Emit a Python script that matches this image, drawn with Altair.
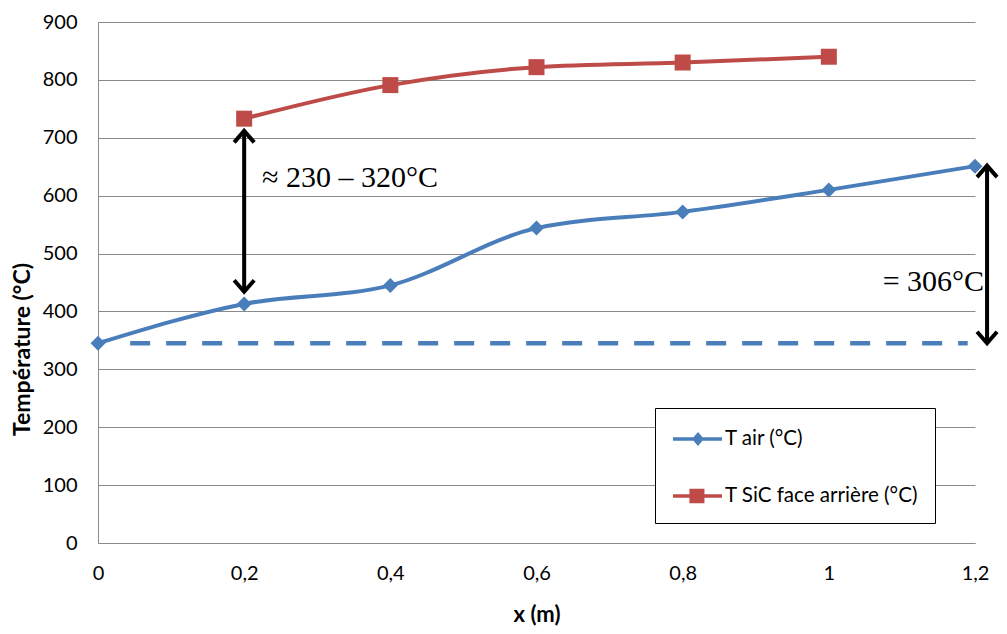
import altair as alt
import pandas as pd

# ---- data ----
x_air = [0, 0.2, 0.4, 0.6, 0.8, 1.0, 1.2]
t_air = [345, 413, 445, 544, 572, 610, 651]
x_sic = [0.2, 0.4, 0.6, 0.8, 1.0]
t_sic = [733, 791, 822, 830, 840]
x_inlet = [0.044, 1.19]
t_inlet = [345, 345]
series = ["T air (°C)", "T SiC face arrière (°C)"]
colors = ["#4a7ebb", "#be4b48"]
x_ticks = [0, 0.2, 0.4, 0.6, 0.8, 1.0, 1.2]
y_ticks = [0, 100, 200, 300, 400, 500, 600, 700, 800, 900]

arrow_x = [0.2, 1.2165]
arrow_low = [434, 345]
arrow_high = [712, 652]
note_left = "≈ 230 – 320°C"
note_left_pos = [0.2244, 630]
note_right = "= 306°C"
note_right_pos = [1.2125, 451]

# legend symbols: line segment + marker (custom paths)
legend_shapes = [
    "M-0.867,-0.117H2.4V0.117H-0.867Z M0.8,-0.47L1.2,0L0.8,0.47L0.4,0Z",
    "M-0.867,-0.117H2.4V0.117H-0.867Z M0.23,-0.48H1.23V0.48H0.23Z",
]

FONT = "Lato"
GRID = "#8a8a8a"

df_air = pd.DataFrame({"x": x_air, "y": t_air})
df_sic = pd.DataFrame({"x": x_sic, "y": t_sic})
df_inlet = pd.DataFrame({"x": x_inlet, "y": t_inlet})
df_arrows = pd.DataFrame({"x": arrow_x, "y": arrow_low, "y2": arrow_high})
df_up = pd.DataFrame({"x": arrow_x, "y": arrow_high})
df_down = pd.DataFrame({"x": arrow_x, "y": arrow_low})
df_tl = pd.DataFrame({"x": [note_left_pos[0]], "y": [note_left_pos[1]], "t": [note_left]})
df_tr = pd.DataFrame({"x": [note_right_pos[0]], "y": [note_right_pos[1]], "t": [note_right]})
df_leg = pd.DataFrame({"series": series})

x_enc = alt.X(
    "x:Q",
    scale=alt.Scale(domain=[0, 1.2], nice=False, zero=False),
    axis=alt.Axis(
        values=x_ticks,
        labelExpr="replace(format(datum.value, ''), '.', ',')",
        grid=False,
        ticks=False,
        domainColor=GRID,
        domainWidth=1,
        labelFont=FONT,
        labelFontSize=20,
        labelColor="black",
        labelPadding=30,
        labelBaseline="middle",
        labelFlush=False,
        title="x (m)",
        titleFont=FONT,
        titleFontSize=22,
        titleFontWeight="bold",
        titleColor="black",
        titleY=71,
        titleBaseline="middle",
    ),
)
y_enc = alt.Y(
    "y:Q",
    scale=alt.Scale(domain=[0, 900], nice=False),
    axis=alt.Axis(
        values=y_ticks,
        grid=True,
        gridColor=GRID,
        gridWidth=1,
        ticks=False,
        domainColor=GRID,
        domainWidth=1,
        labelFont=FONT,
        labelFontSize=20,
        labelColor="black",
        labelPadding=21,
        title="Température (°C)",
        titleFont=FONT,
        titleFontSize=23,
        titleFontWeight="bold",
        titleColor="black",
        titleX=-76,
        titleY=327,
        titleAngle=270,
        titleAlign="center",
        titleBaseline="middle",
    ),
)
xs = alt.X("x:Q")
ys = alt.Y("y:Q")

inlet = alt.Chart(df_inlet).mark_line(
    color=colors[0], strokeWidth=4.5, strokeDash=[20, 16]
).encode(x=x_enc, y=y_enc)

air_line = alt.Chart(df_air).mark_line(
    color=colors[0], strokeWidth=4, interpolate="monotone"
).encode(x=xs, y=ys)
air_pts = alt.Chart(df_air).mark_point(
    shape="diamond", filled=True, color=colors[0], size=225, opacity=1
).encode(x=xs, y=ys)

sic_line = alt.Chart(df_sic).mark_line(
    color=colors[1], strokeWidth=4, interpolate="monotone"
).encode(x=xs, y=ys)
sic_pts = alt.Chart(df_sic).mark_point(
    shape="square", filled=True, color=colors[1], size=256, opacity=1
).encode(x=xs, y=ys)

shafts = alt.Chart(df_arrows).mark_rule(color="black", strokeWidth=4, clip=False).encode(
    x=xs, y=ys, y2="y2:Q"
)
heads_up = alt.Chart(df_up).mark_point(
    shape="M-1,1.15L0,0L1,1.15", filled=False, color="black", strokeWidth=4,
    size=400, opacity=1, clip=False,
).encode(x=xs, y=ys)
heads_down = alt.Chart(df_down).mark_point(
    shape="M-1,-1.15L0,0L1,-1.15", filled=False, color="black", strokeWidth=4,
    size=400, opacity=1, clip=False,
).encode(x=xs, y=ys)

txt_left = alt.Chart(df_tl).mark_text(
    font="Liberation Serif", fontSize=30, align="left", baseline="middle", color="black"
).encode(x=xs, y=ys, text="t:N")
txt_right = alt.Chart(df_tr).mark_text(
    font="Liberation Serif", fontSize=30, align="right", baseline="middle", color="black",
    clip=False,
).encode(x=xs, y=ys, text="t:N")

legend_def = alt.Legend(
    orient="none",
    legendX=557,
    legendY=386,
    title=None,
    strokeColor="black",
    fillColor="white",
    padding=16,
    symbolSize=900,
    symbolStrokeWidth=0,
    rowPadding=31,
    labelOffset=24,
    labelFont=FONT,
    labelFontSize=20.6,
    labelColor="black",
    labelLimit=400,
)
legend_layer = alt.Chart(df_leg).transform_filter("false").mark_point(
    filled=True, opacity=1
).encode(
    color=alt.Color("series:N", scale=alt.Scale(domain=series, range=colors), legend=legend_def),
    shape=alt.Shape("series:N", scale=alt.Scale(domain=series, range=legend_shapes), legend=legend_def),
)

chart = alt.layer(
    inlet, air_line, air_pts, sic_line, sic_pts, shafts, heads_up, heads_down,
    txt_left, txt_right, legend_layer,
).properties(
    width=877,
    height=521,
    autosize=alt.AutoSizeParams(type="none"),
    padding={"left": 90, "top": 14, "right": 24, "bottom": 83},
    background="white",
).configure_view(stroke=None)

chart.save("out.html", embed_options={"renderer": "svg", "actions": False})
